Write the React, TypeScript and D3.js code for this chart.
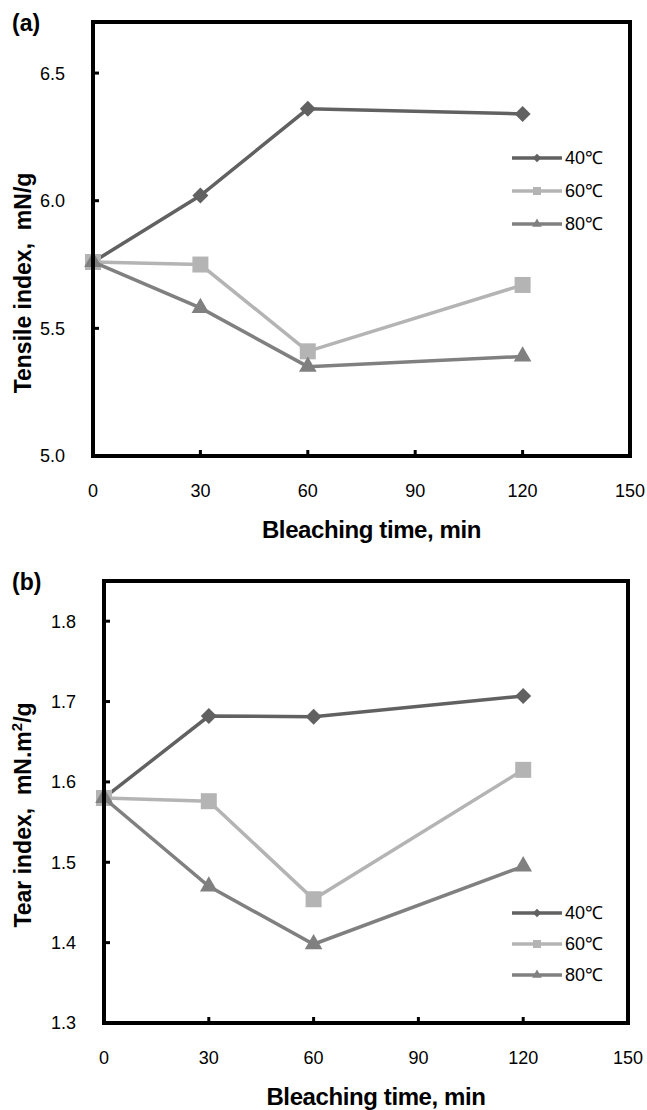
import { useEffect, useRef } from 'react';
import * as d3 from 'd3';

const times = [0, 30, 60, 120];
const xTicks = [0, 30, 60, 90, 120, 150];

const tensile40 = [5.76, 6.02, 6.36, 6.34];
const tensile60 = [5.76, 5.75, 5.41, 5.67];
const tensile80 = [5.76, 5.58, 5.35, 5.39];
const tensileTicks = [5.0, 5.5, 6.0, 6.5];

const tear40 = [1.58, 1.682, 1.681, 1.707];
const tear60 = [1.58, 1.576, 1.454, 1.615];
const tear80 = [1.58, 1.47, 1.398, 1.495];
const tearTicks = [1.3, 1.4, 1.5, 1.6, 1.7, 1.8];

const seriesNames = ['40℃', '60℃', '80℃'];

const COLORS = ['#616161', '#b4b4b4', '#808080'];
const FONT = "'Liberation Sans', Arial, sans-serif";

type Kind = 'diamond' | 'square' | 'triangle';
const KINDS: Kind[] = ['diamond', 'square', 'triangle'];

interface Panel {
  tag: string;
  yTitle: string;
  ySup?: [string, string, string];
  values: number[][];
  yDomain: [number, number];
  yTicks: number[];
  box: { left: number; right: number; top: number; bottom: number };
  yTitleCenter: number;
  legendY: number;
  legendGap: number;
}

const panels: Panel[] = [
  {
    tag: '(a)',
    yTitle: 'Tensile index,\u00a0\u00a0mN/g',
    values: [tensile40, tensile60, tensile80],
    yDomain: [5.0, 6.7],
    yTicks: tensileTicks,
    box: { left: 93, right: 630, top: 22, bottom: 456 },
    yTitleCenter: 283,
    legendY: 158,
    legendGap: 33,
  },
  {
    tag: '(b)',
    yTitle: '',
    ySup: ['Tear index,\u00a0\u00a0mN.m', '2', '/g'],
    values: [tear40, tear60, tear80],
    yDomain: [1.3, 1.85],
    yTicks: tearTicks,
    box: { left: 104, right: 628, top: 581, bottom: 1023 },
    yTitleCenter: 815,
    legendY: 913,
    legendGap: 31,
  },
];

function markerPath(kind: Kind, big: boolean) {
  if (kind === 'diamond') return d3.symbol(d3.symbolSquare, big ? 128 : 36)();
  if (kind === 'square') return d3.symbol(d3.symbolSquare, big ? 256 : 64)();
  return d3.symbol(d3.symbolTriangle, big ? 135 : 40)();
}

export default function App() {
  const ref = useRef<SVGSVGElement>(null);

  useEffect(() => {
    const svg = d3.select(ref.current);
    svg.selectAll('*').remove();

    for (const p of panels) {
      const { left, right, top, bottom } = p.box;
      const x = d3.scaleLinear().domain([0, 150]).range([left, right]);
      const y = d3.scaleLinear().domain(p.yDomain).range([bottom, top]);
      const g = svg.append('g');

      // panel tag
      g.append('text')
        .attr('x', 12).attr('y', top + 9)
        .attr('font-family', FONT).attr('font-size', 23).attr('font-weight', 'bold')
        .text(p.tag);

      // ticks (inward)
      for (const t of p.yTicks.slice(1)) {
        g.append('line')
          .attr('x1', left).attr('x2', left + 6)
          .attr('y1', y(t)).attr('y2', y(t))
          .attr('stroke', '#000').attr('stroke-width', 3);
      }
      for (const t of xTicks.slice(1, -1)) {
        g.append('line')
          .attr('x1', x(t)).attr('x2', x(t))
          .attr('y1', bottom).attr('y2', bottom - 6)
          .attr('stroke', '#000').attr('stroke-width', 3);
      }

      // tick labels
      g.selectAll('.ylab')
        .data(p.yTicks)
        .enter()
        .append('text')
        .attr('x', left - 28).attr('y', (d) => y(d))
        .attr('dy', '0.36em')
        .attr('text-anchor', 'end')
        .attr('font-family', FONT).attr('font-size', 18)
        .text((d) => d.toFixed(1));

      g.selectAll('.xlab')
        .data(xTicks)
        .enter()
        .append('text')
        .attr('x', (d) => x(d)).attr('y', bottom + 41)
        .attr('text-anchor', 'middle')
        .attr('font-family', FONT).attr('font-size', 18)
        .text((d) => d);

      // axis titles
      g.append('text')
        .attr('x', (left + right) / 2 + 10).attr('y', bottom + 82)
        .attr('text-anchor', 'middle')
        .attr('font-family', FONT).attr('font-size', 24).attr('font-weight', 'bold')
        .attr('letter-spacing', -0.4)
        .text('Bleaching time, min');

      const yt = g.append('text')
        .attr('transform', `translate(31,${p.yTitleCenter}) rotate(-90)`)
        .attr('text-anchor', 'middle')
        .attr('font-family', FONT).attr('font-size', 23).attr('font-weight', 'bold');
      if (p.ySup) {
        yt.append('tspan').text(p.ySup[0]);
        yt.append('tspan').attr('font-size', 15).attr('dy', -9).text(p.ySup[1]);
        yt.append('tspan').attr('dy', 9).text(p.ySup[2]);
      } else {
        yt.text(p.yTitle);
      }

      // series
      const line = d3.line<number>()
        .x((_, i) => x(times[i]))
        .y((d) => y(d));

      p.values.forEach((vals, si) => {
        g.append('path')
          .datum(vals)
          .attr('d', line)
          .attr('fill', 'none')
          .attr('stroke', COLORS[si])
          .attr('stroke-width', 3.5);
        const kind = KINDS[si];
        vals.forEach((v, i) => {
          g.append('path')
            .attr('d', markerPath(kind, true))
            .attr('transform', `translate(${x(times[i])},${y(v)})${kind === 'diamond' ? ' rotate(45)' : ''}`)
            .attr('fill', COLORS[si]);
        });
      });

      // legend
      seriesNames.forEach((name, si) => {
        const ly = p.legendY + si * p.legendGap;
        g.append('line')
          .attr('x1', 512).attr('x2', 562)
          .attr('y1', ly).attr('y2', ly)
          .attr('stroke', COLORS[si]).attr('stroke-width', 3.5);
        const kind = KINDS[si];
        g.append('path')
          .attr('d', markerPath(kind, false))
          .attr('transform', `translate(537,${ly})${kind === 'diamond' ? ' rotate(45)' : ''}`)
          .attr('fill', COLORS[si]);
        g.append('text')
          .attr('x', 565).attr('y', ly)
          .attr('dy', '0.36em')
          .attr('font-family', FONT).attr('font-size', 18)
          .text(name);
      });

      // frame
      g.append('rect')
        .attr('x', left).attr('y', top)
        .attr('width', right - left).attr('height', bottom - top)
        .attr('fill', 'none')
        .attr('stroke', '#000')
        .attr('stroke-width', 4);
    }
  }, []);

  return (
    <svg
      ref={ref}
      width={647}
      height={1110}
      style={{ position: 'absolute', left: 0, top: 0, background: '#fff' }}
    />
  );
}
